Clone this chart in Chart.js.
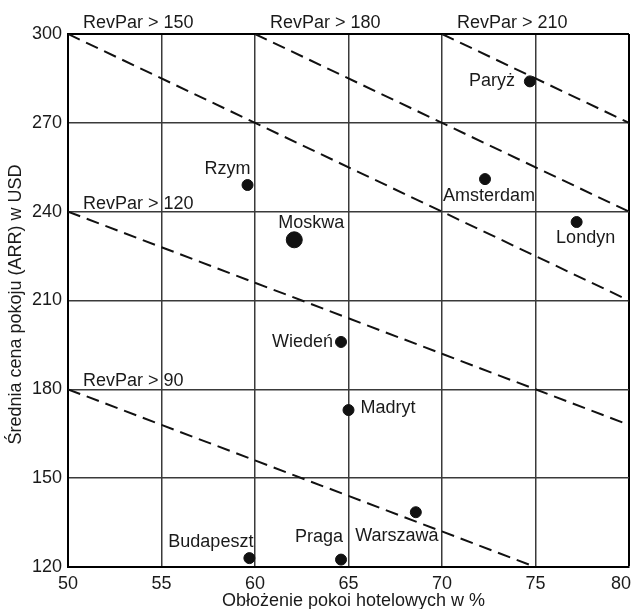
<!DOCTYPE html>
<html>
<head>
<meta charset="utf-8">
<style>
    html, body { margin: 0; padding: 0; background: #fff; }
    #wrap { width: 631px; height: 609px; }
</style>
</head>
<body>
<div id="wrap">
    <canvas id="revpar-chart" width="631" height="609"></canvas>
</div>

<script src="https://cdn.jsdelivr.net/npm/chart.js"></script>

<script>
    // data
    const cities = ['Paryż', 'Amsterdam', 'Londyn', 'Rzym', 'Moskwa', 'Wiedeń', 'Madryt', 'Warszawa', 'Praga', 'Budapeszt'];
    const occupancy = [74.7, 72.3, 77.2, 59.6, 62.1, 64.6, 65.0, 68.6, 64.6, 59.7];
    const roomRate = [284, 251, 236.5, 249, 230.5, 196, 173, 138.5, 122.5, 123];

    const revparLevels = [90, 120, 150, 180, 210];
    const revparStartX = [50, 50, 50, 60, 70];
    const revparStartY = [180, 240, 300, 300, 300];
    const revparEndX = [75, 80, 80, 80, 80];
    const revparEndY = [120, 168, 210, 240, 270];

    const xTicks = [50, 55, 60, 65, 70, 75, 80];
    const yTicks = [120, 150, 180, 210, 240, 270, 300];

    const xTitle = 'Obłożenie pokoi hotelowych w %';
    const yTitle = 'Średnia cena pokoju (ARR) w USD';

    // where each city name sits next to its dot: [align, dx, dy]
    const labelPlace = {
        'Paryż': ['right', -15, 0],
        'Amsterdam': ['center', 4, 17],
        'Londyn': ['center', 9, 16],
        'Rzym': ['right', 3, -16],
        'Moskwa': ['center', 17, -17],
        'Wiedeń': ['right', -8, 0],
        'Madryt': ['left', 12, -2],
        'Warszawa': ['center', -19, 24],
        'Praga': ['right', 2, -23],
        'Budapeszt': ['right', 4, -16]
    };

    const FONT = '18px "Liberation Sans", Arial, sans-serif';
    const INK = '#1a1a1a';

    const lineSets = revparLevels.map((lvl, i) => ({
        type: 'line',
        label: 'RevPar > ' + lvl,
        data: [
            { x: revparStartX[i], y: revparStartY[i] },
            { x: revparEndX[i], y: revparEndY[i] }
        ],
        borderColor: '#111',
        borderWidth: 2,
        borderDash: [13, 7],
        pointRadius: 0,
        fill: false,
        order: 1
    }));

    const textPlugin = {
        id: 'texts',
        afterDraw(chart) {
            const { ctx, chartArea, scales: { x, y } } = chart;
            ctx.save();
            ctx.font = FONT;
            ctx.fillStyle = INK;

            // tick labels
            ctx.textAlign = 'right';
            ctx.textBaseline = 'middle';
            yTicks.forEach(v => ctx.fillText(String(v), chartArea.left - 6, y.getPixelForValue(v)));

            ctx.textBaseline = 'alphabetic';
            xTicks.forEach((v, i) => {
                let px = x.getPixelForValue(v);
                ctx.textAlign = 'center';
                if (i === xTicks.length - 1) { ctx.textAlign = 'right'; px = chart.width; }
                ctx.fillText(String(v), px, chartArea.bottom + 22);
            });

            // axis titles
            ctx.textAlign = 'center';
            ctx.fillText(xTitle, (chartArea.left + chartArea.right) / 2 + 5, chartArea.bottom + 39);
            ctx.save();
            ctx.translate(21, (chartArea.top + chartArea.bottom) / 2 + 4);
            ctx.rotate(-Math.PI / 2);
            ctx.fillText(yTitle, 0, 0);
            ctx.restore();

            // RevPar labels at the start of each dashed line
            ctx.textAlign = 'left';
            revparLevels.forEach((lvl, i) => {
                const px = x.getPixelForValue(revparStartX[i]);
                const py = y.getPixelForValue(revparStartY[i]);
                const dy = revparStartY[i] === 300 ? -6 : -3;
                ctx.fillText('RevPar > ' + lvl, px + 15, py + dy);
            });

            // city names
            ctx.textBaseline = 'middle';
            cities.forEach((c, i) => {
                const [align, dx, dy] = labelPlace[c];
                ctx.textAlign = align;
                ctx.fillText(c, x.getPixelForValue(occupancy[i]) + dx, y.getPixelForValue(roomRate[i]) + dy);
            });
            ctx.restore();
        }
    };

    const edgeColor = (ctx, edgeVals) => edgeVals.includes(ctx.tick.value) ? '#000' : '#3a3a3a';

    const ctx = document.getElementById('revpar-chart');

    new Chart(ctx, {
        type: 'scatter',
        data: {
            datasets: [
                {
                    label: 'Miasta',
                    data: cities.map((c, i) => ({ x: occupancy[i], y: roomRate[i] })),
                    backgroundColor: '#111',
                    borderColor: '#111',
                    pointRadius: cities.map(c => c === 'Moskwa' ? 8 : 5.5),
                    pointHoverRadius: cities.map(c => c === 'Moskwa' ? 8 : 5.5),
                    order: 0
                },
                ...lineSets
            ]
        },
        options: {
            responsive: false,
            animation: false,
            events: [],
            layout: { autoPadding: false, padding: { top: 34, right: 2, left: 0, bottom: 0 } },
            plugins: {
                legend: { display: false },
                tooltip: { enabled: false }
            },
            scales: {
                x: {
                    type: 'linear',
                    min: 50,
                    max: 80,
                    ticks: { stepSize: 5, display: false },
                    grid: {
                        color: c => edgeColor(c, [80]),
                        lineWidth: c => c.tick.value === 80 ? 2 : 1.5,
                        drawTicks: false
                    },
                    border: { color: '#000', width: 2 },
                    afterFit: s => { s.height = 42; s.paddingLeft = 0; s.paddingRight = 0; }
                },
                y: {
                    type: 'linear',
                    min: 120,
                    max: 300,
                    ticks: { stepSize: 30, display: false },
                    grid: {
                        color: c => edgeColor(c, [300]),
                        lineWidth: c => c.tick.value === 300 ? 2 : 1.5,
                        drawTicks: false
                    },
                    border: { color: '#000', width: 2 },
                    afterFit: s => { s.width = 68; s.paddingTop = 0; s.paddingBottom = 0; }
                }
            }
        },
        plugins: [textPlugin]
    });
</script>
</body>
</html>
